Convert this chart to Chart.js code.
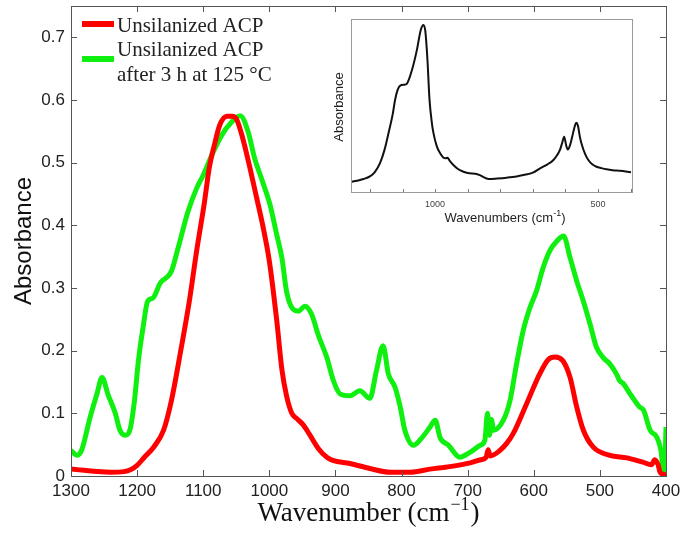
<!DOCTYPE html>
<html><head><meta charset="utf-8">
<script src="https://cdn.jsdelivr.net/npm/chart.js@4/dist/chart.umd.min.js"></script>
<style>
html,body{margin:0;padding:0;background:#fff;}
#wrap{position:relative;width:687px;height:533px;background:#fff;}
#main{position:absolute;left:0;top:0;}
#inset{position:absolute;left:330px;top:0;}
</style></head><body>
<div id="wrap">
<canvas id="main" width="687" height="533"></canvas>
<canvas id="inset" width="310" height="230"></canvas>
</div>
<script>
// ---- Data ----
const redWavenumber = [1300,1280,1260,1240,1220,1210,1200,1189,1175,1160,1148,1134,1121,1110,1098,1091,1082,1075,1064,1056,1049,1040,1029,1019,1010,1000,989,981,974,966,959,949,939,926,913,904,878,848,817,787,757,727,696,680,672,669,666,651,641,631,611,591,578,568,556,545,535,525,510,485,459,435,422,417,412,409,402,400];
const redAbsorbance = [0.011,0.009,0.007,0.006,0.007,0.010,0.017,0.030,0.046,0.073,0.121,0.200,0.279,0.359,0.438,0.491,0.533,0.560,0.574,0.574,0.568,0.538,0.490,0.443,0.400,0.343,0.250,0.170,0.128,0.100,0.092,0.082,0.066,0.044,0.030,0.025,0.020,0.012,0.006,0.006,0.011,0.015,0.021,0.026,0.030,0.042,0.032,0.041,0.052,0.068,0.115,0.163,0.186,0.190,0.184,0.157,0.110,0.073,0.046,0.033,0.029,0.022,0.018,0.026,0.018,0.006,0.002,0.000];

const greenWavenumber = [1300,1291,1284,1271,1261,1253,1244,1233,1226,1218,1211,1204,1198,1191,1184,1176,1165,1148,1138,1123,1110,1100,1087,1072,1057,1044,1032,1022,1012,999,989,981,974,964,956,946,936,926,913,903,893,878,863,848,838,828,820,810,802,795,782,770,757,749,742,729,712,696,681,674,670,667,664,661,646,636,626,616,606,596,586,576,565,555,545,535,525,515,505,495,485,475,470,465,455,445,440,434,424,414,407,404,401,400];
const greenAbsorbance = [0.041,0.033,0.041,0.094,0.130,0.157,0.130,0.100,0.073,0.065,0.073,0.120,0.184,0.237,0.279,0.284,0.308,0.327,0.364,0.422,0.459,0.480,0.512,0.544,0.565,0.575,0.549,0.506,0.475,0.433,0.386,0.348,0.295,0.266,0.263,0.271,0.258,0.225,0.189,0.152,0.131,0.128,0.136,0.124,0.168,0.208,0.163,0.142,0.110,0.073,0.049,0.060,0.078,0.089,0.062,0.049,0.030,0.038,0.049,0.057,0.100,0.065,0.090,0.073,0.089,0.120,0.179,0.232,0.268,0.295,0.332,0.359,0.375,0.383,0.348,0.311,0.279,0.243,0.205,0.189,0.179,0.163,0.152,0.148,0.132,0.117,0.110,0.105,0.073,0.062,0.036,0.004,0.040,0.078];

const insetWavenumber = [1258,1240,1220,1200,1185,1169,1155,1143,1130,1123,1115,1107,1095,1087,1071,1056,1044,1036,1030,1024,1017,1010,1005,995,985,975,968,962,955,944,930,913,895,877,860,845,836,810,780,750,729,700,678,655,637,625,617,610,604,598,593,587,580,573,567,562,556,551,540,530,518,505,490,474,455,433,415,399];
const insetSignal = [0.058,0.065,0.075,0.090,0.115,0.167,0.245,0.340,0.450,0.530,0.590,0.615,0.620,0.625,0.705,0.820,0.936,0.965,0.930,0.780,0.530,0.400,0.340,0.265,0.225,0.200,0.195,0.198,0.180,0.156,0.133,0.117,0.108,0.106,0.095,0.080,0.075,0.078,0.083,0.090,0.098,0.112,0.137,0.160,0.185,0.215,0.243,0.285,0.320,0.270,0.245,0.265,0.315,0.370,0.400,0.385,0.320,0.280,0.220,0.185,0.160,0.146,0.138,0.131,0.126,0.123,0.119,0.114];

const xTicks = [1300,1200,1100,1000,900,800,700,600,500,400];
const yTicks = [0,0.1,0.2,0.3,0.4,0.5,0.6,0.7];
const insetTickLabels = [1000,500];
const insetMinorTicks = [1200,1100,1000,900,800,700,600,500,400];
const seriesNames = ['Unsilanized ACP', ['Unsilanized ACP','after 3 h at 125 °C']];

const RED = 'rgb(255,0,0)';
const GREEN = 'rgb(16,240,16)';

function pts(xs, ys){ return xs.map((x,i)=>({x:x, y:ys[i]})); }
function noPad(s){ s.paddingTop = 0; s.paddingBottom = 0; s.paddingLeft = 0; s.paddingRight = 0; }

// ---- Main chart decorations ----
const mainDeco = {
  id:'mainDeco',
  beforeDraw(chart){
    const c = chart.ctx;
    c.save(); c.fillStyle='#fff'; c.fillRect(0,0,chart.width,chart.height); c.restore();
  },
  afterDraw(chart){
    const c = chart.ctx, a = chart.chartArea, xs = chart.scales.x, ys = chart.scales.y;
    c.save();
    c.strokeStyle = '#555'; c.lineWidth = 1;
    c.strokeRect(Math.round(a.left)+0.5, Math.round(a.top)+0.5, Math.round(a.right-a.left), Math.round(a.bottom-a.top));
    c.beginPath();
    xTicks.forEach(v=>{
      const p = Math.round(xs.getPixelForValue(v))+0.5;
      c.moveTo(p, a.bottom); c.lineTo(p, a.bottom-6);
      c.moveTo(p, a.top); c.lineTo(p, a.top+6);
    });
    yTicks.forEach(v=>{
      const p = Math.round(ys.getPixelForValue(v))+0.5;
      c.moveTo(a.left, p); c.lineTo(a.left+6, p);
      c.moveTo(a.right, p); c.lineTo(a.right-6, p);
    });
    c.stroke();
    c.fillStyle = '#111';
    c.translate(24, (a.top+a.bottom)/2);
    c.rotate(-Math.PI/2);
    c.font = '24px "Liberation Sans", Arial, sans-serif';
    c.textAlign = 'center'; c.textBaseline = 'middle';
    c.fillText('Absorbance', 0, 0);
    c.setTransform(1,0,0,1,0,0);
    const t1 = 'Wavenumber (cm', t2 = '\u22121', t3 = ')';
    const fBig = '27px "Liberation Serif", "Times New Roman", serif';
    const fSmall = '18px "Liberation Serif", "Times New Roman", serif';
    c.font = fBig; const w1 = c.measureText(t1).width, w3 = c.measureText(t3).width;
    c.font = fSmall; const w2 = c.measureText(t2).width;
    let x0 = (a.left+a.right)/2 - (w1+w2+w3+2)/2;
    const base = 521;
    c.textAlign='left'; c.textBaseline='alphabetic';
    c.font = fBig; c.fillText(t1, x0, base);
    c.font = fSmall; c.fillText(t2, x0+w1+1, base-11);
    c.font = fBig; c.fillText(t3, x0+w1+w2+2, base);
    c.lineWidth = 6; c.lineCap = 'butt';
    c.strokeStyle = RED; c.beginPath(); c.moveTo(82,24); c.lineTo(114,24); c.stroke();
    c.strokeStyle = GREEN; c.beginPath(); c.moveTo(82,59); c.lineTo(114,59); c.stroke();
    c.fillStyle = '#222';
    c.font = '21px "Liberation Serif", "Times New Roman", serif';
    c.fillText(seriesNames[0], 117, 32);
    c.fillText(seriesNames[1][0], 117, 56);
    c.fillText(seriesNames[1][1], 117, 81);
    c.restore();
  }
};

new Chart(document.getElementById('main'), {
  type:'line',
  data:{ datasets:[
    { label: seriesNames[0], data: pts(redWavenumber, redAbsorbance), borderColor: RED, borderWidth:5, pointRadius:0, cubicInterpolationMode:'monotone', fill:false },
    { label: seriesNames[1].join(' '), data: pts(greenWavenumber, greenAbsorbance), borderColor: GREEN, borderWidth:5, pointRadius:0, cubicInterpolationMode:'monotone', fill:false }
  ]},
  options:{
    responsive:false, animation:false, devicePixelRatio:1,
    layout:{ padding:{left:0, right:21, top:6, bottom:0} },
    plugins:{ legend:{display:false}, tooltip:{enabled:false} },
    scales:{
      x:{ type:'linear', reverse:true, min:400, max:1300,
          afterBuildTicks:s=>{ s.ticks = xTicks.map(v=>({value:v})); },
          afterFit:s=>{ s.height = 57; noPad(s); },
          grid:{ display:false, drawTicks:false }, border:{display:false},
          ticks:{ font:{family:'"Liberation Sans", Arial, sans-serif', size:17}, color:'#222', padding:5, maxRotation:0, autoSkip:false,
                  callback:v=>String(v) } },
      y:{ type:'linear', min:0, max:0.75,
          afterBuildTicks:s=>{ s.ticks = yTicks.map(v=>({value:v})); },
          afterFit:s=>{ s.width = 71; noPad(s); },
          grid:{ display:false, drawTicks:false }, border:{display:false},
          ticks:{ font:{family:'"Liberation Sans", Arial, sans-serif', size:17}, color:'#222', padding:6, autoSkip:false,
                  callback:v=> v===0 ? '0' : v.toFixed(1) } }
    }
  },
  plugins:[mainDeco]
});

// ---- Inset ----
const insetDeco = {
  id:'insetDeco',
  beforeDatasetsDraw(chart){
    const c = chart.ctx, a = chart.chartArea;
    c.save(); c.fillStyle = '#fff'; c.fillRect(a.left, a.top, a.right-a.left, a.bottom-a.top); c.restore();
  },
  afterDraw(chart){
    const c = chart.ctx, a = chart.chartArea, xs = chart.scales.x;
    c.save();
    c.strokeStyle = '#9a9a9a'; c.lineWidth = 1;
    c.strokeRect(Math.round(a.left)+0.5, Math.round(a.top)+0.5, Math.round(a.right-a.left), Math.round(a.bottom-a.top));
    c.strokeStyle = '#777';
    c.beginPath();
    insetMinorTicks.forEach(v=>{
      const p = Math.round(xs.getPixelForValue(v))+0.5;
      if (p > a.left && p < a.right){ c.moveTo(p, a.bottom); c.lineTo(p, a.bottom-3); }
    });
    c.stroke();
    c.fillStyle = '#222';
    const t1='Wavenumbers (cm', t2='-1', t3=')';
    const fb='13px "Liberation Sans", Arial, sans-serif', fs='9px "Liberation Sans", Arial, sans-serif';
    c.font=fb; const w1=c.measureText(t1).width, w3=c.measureText(t3).width;
    c.font=fs; const w2=c.measureText(t2).width;
    let x0 = 175 - (w1+w2+w3)/2;
    c.textAlign='left'; c.textBaseline='alphabetic';
    c.font=fb; c.fillText(t1, x0, 222);
    c.font=fs; c.fillText(t2, x0+w1, 216);
    c.font=fb; c.fillText(t3, x0+w1+w2, 222);
    c.translate(9, 107); c.rotate(-Math.PI/2);
    c.font='13px "Liberation Sans", Arial, sans-serif';
    c.textAlign='center'; c.textBaseline='middle';
    c.fillText('Absorbance', 0, 0);
    c.restore();
  }
};

new Chart(document.getElementById('inset'), {
  type:'line',
  data:{ datasets:[
    { label:'inset', data: pts(insetWavenumber, insetSignal), borderColor:'#111', borderWidth:2, pointRadius:0, cubicInterpolationMode:'monotone', fill:false }
  ]},
  options:{
    responsive:false, animation:false, devicePixelRatio:1,
    layout:{ padding:{left:21, right:8, top:19, bottom:0} },
    plugins:{ legend:{display:false}, tooltip:{enabled:false} },
    scales:{
      x:{ type:'linear', reverse:true, min:396, max:1258,
          afterBuildTicks:s=>{ s.ticks = insetTickLabels.map(v=>({value:v})); },
          afterFit:s=>{ s.height = 38; noPad(s); },
          grid:{ display:false, drawTicks:false }, border:{display:false},
          ticks:{ font:{family:'"Liberation Sans", Arial, sans-serif', size:9}, color:'#444', padding:7, maxRotation:0, autoSkip:false,
                  callback:v=>String(v) } },
      y:{ type:'linear', min:0, max:1, display:false }
    }
  },
  plugins:[insetDeco]
});
</script>
</body></html>
